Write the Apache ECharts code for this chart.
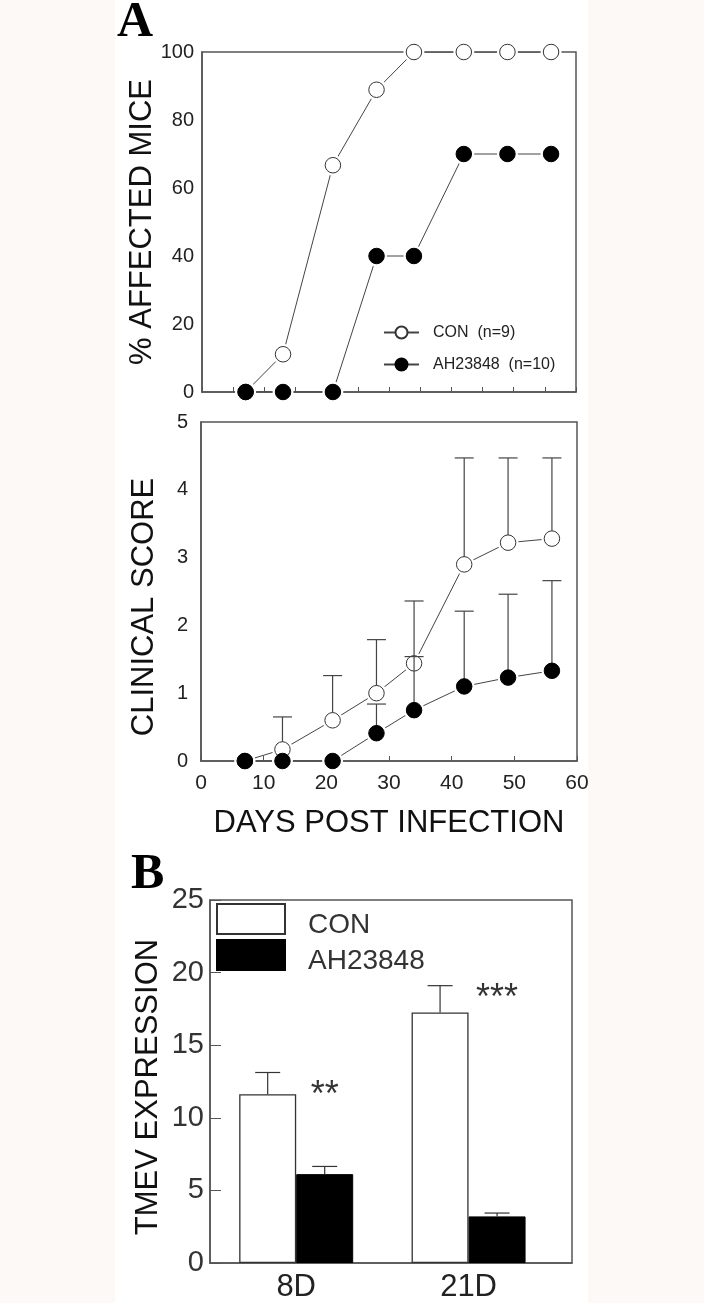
<!DOCTYPE html>
<html>
<head>
<meta charset="utf-8">
<script src="https://cdn.jsdelivr.net/npm/echarts@6/dist/echarts.min.js"></script>
<style>
  html, body { margin: 0; padding: 0; }
  body { background: linear-gradient(to right, #fdf9f7 0px, #fdf9f7 115px, #ffffff 115px, #ffffff 588px, #fdf9f7 588px, #fdf9f7 704px); }
  #chart { width: 704px; height: 1303px; }
</style>
</head>
<body>
<div id="chart"></div>
<script>
// ---- Data ----
const days = [7, 13, 21, 28, 34, 42, 49, 56];
const pctCON = [0, 11.1, 66.7, 88.9, 100, 100, 100, 100];
const pctAH = [0, 0, 0, 40, 40, 70, 70, 70];
const scoreCON = [0, 0.17, 0.6, 1.0, 1.44, 2.9, 3.22, 3.28];
const scoreCONUpper = [null, 0.65, 1.26, 1.79, 2.36, 4.47, 4.47, 4.47];
const scoreAH = [0, 0, 0, 0.41, 0.75, 1.1, 1.23, 1.33];
const scoreAHUpper = [null, null, null, 0.84, 1.54, 2.21, 2.46, 2.66];
const barCats = ['8D', '21D'];
const tmevCON = [11.63, 17.25];
const tmevCONUpper = [13.12, 19.1];
const tmevAH = [6.12, 3.21];
const tmevAHUpper = [6.65, 3.44];
const sigLabels = ['**', '***'];
const sigY = [11.5, 18.2];
const nameCON_A = 'CON  (n=9)';
const nameAH_A = 'AH23848  (n=10)';

// ---- Styles ----
const FONT = 'Liberation Sans, Arial, sans-serif';
const AXIS_C = '#555';
const LINE_C = '#444';
const TXT = '#222';
const MS = 15.5;     // marker size
const HALO = 21;
const BAR_W = 57;

const pairs = (xs, ys) => xs.map((x, i) => [x, ys[i]]);
const errData = (xs, ys, ups) => xs.map((x, i) => [x, ys[i], ups[i]]).filter(d => d[2] != null);

function errRenderer(cap, dx, color) {
  return function (params, api) {
    const x = api.value(0), y = api.value(1), up = api.value(2);
    const p0 = api.coord([x, y]);
    const p1 = api.coord([x, up]);
    const cx = p0[0] + dx;
    const st = { stroke: color, lineWidth: 1.2 };
    return {
      type: 'group',
      children: [
        { type: 'line', shape: { x1: cx, y1: p0[1], x2: cx, y2: p1[1] }, style: st },
        { type: 'line', shape: { x1: cx - cap / 2, y1: p1[1], x2: cx + cap / 2, y2: p1[1] }, style: st }
      ]
    };
  };
}

const conItem = { color: '#fff', borderColor: '#333', borderWidth: 1, opacity: 1 };
const ahItem = { color: '#000', borderColor: '#000', borderWidth: 1, opacity: 1 };

const chart = echarts.init(document.getElementById('chart'), null, { renderer: 'canvas' });

const gridBase = { show: true, borderColor: AXIS_C, borderWidth: 1.5, backgroundColor: 'transparent', containLabel: false, outerBoundsMode: 'none' };

const option = {
  animation: false,
  backgroundColor: 'transparent',
  textStyle: { fontFamily: FONT },
  grid: [
    Object.assign({ left: 202, top: 52, width: 374, height: 340 }, gridBase),
    Object.assign({ left: 201, top: 422, width: 376, height: 339 }, gridBase),
    Object.assign({ left: 210, top: 900, width: 362, height: 363 }, gridBase)
  ],
  xAxis: [
    {
      gridIndex: 0, type: 'value', min: 0, max: 60, interval: 5,
      axisLine: { lineStyle: { color: AXIS_C, width: 1.5 } },
      axisTick: { show: true, inside: true, length: 5, lineStyle: { color: AXIS_C } },
      axisLabel: { show: false }, splitLine: { show: false }
    },
    {
      gridIndex: 1, type: 'value', min: 0, max: 60, interval: 10,
      axisLine: { lineStyle: { color: AXIS_C, width: 1.5 } },
      axisTick: { show: true, inside: true, length: 5, lineStyle: { color: AXIS_C } },
      axisLabel: { fontSize: 21, color: TXT, margin: 12, fontFamily: FONT },
      splitLine: { show: false },
      name: 'DAYS POST INFECTION', nameLocation: 'middle', nameGap: 47, nameMoveOverlap: false,
      nameTextStyle: { fontSize: 31, color: '#111', fontFamily: FONT }
    },
    {
      gridIndex: 2, type: 'value', min: 0.5, max: 2.6,
      axisLine: { lineStyle: { color: AXIS_C, width: 1.5 } },
      axisTick: { show: false },
      axisLabel: {
        customValues: [1, 2], fontSize: 31, color: TXT, margin: 9, fontFamily: FONT,
        formatter: v => barCats[Math.round(v) - 1] || ''
      },
      splitLine: { show: false }
    }
  ],
  yAxis: [
    {
      gridIndex: 0, type: 'value', min: 0, max: 100, interval: 20,
      axisLine: { lineStyle: { color: AXIS_C, width: 1.5 } },
      axisTick: { show: false },
      axisLabel: { fontSize: 20, color: TXT, margin: 8, fontFamily: FONT },
      splitLine: { show: false },
      name: '% AFFECTED MICE', nameLocation: 'middle', nameGap: 44, nameMoveOverlap: false,
      nameTextStyle: { fontSize: 31, color: '#111', fontFamily: FONT }
    },
    {
      gridIndex: 1, type: 'value', min: 0, max: 5, interval: 1,
      axisLine: { lineStyle: { color: AXIS_C, width: 1.5 } },
      axisTick: { show: false },
      axisLabel: { fontSize: 20, color: TXT, margin: 13, fontFamily: FONT },
      splitLine: { show: false },
      name: 'CLINICAL SCORE', nameLocation: 'middle', nameGap: 41, nameMoveOverlap: false,
      nameTextStyle: { fontSize: 31, color: '#111', fontFamily: FONT, padding: [0, 31, 0, 0] }
    },
    {
      gridIndex: 2, type: 'value', min: 0, max: 25, interval: 5,
      axisLine: { lineStyle: { color: AXIS_C, width: 1.5 } },
      axisTick: { show: true, inside: true, length: 11, lineStyle: { color: AXIS_C } },
      axisLabel: { fontSize: 29, color: '#333', margin: 6, fontFamily: FONT },
      splitLine: { show: false },
      name: 'TMEV EXPRESSION', nameLocation: 'middle', nameGap: 46, nameMoveOverlap: false,
      nameTextStyle: { fontSize: 31, color: '#111', fontFamily: FONT, padding: [0, 11, 0, 0] }
    }
  ],
  legend: [
    {
      data: [nameCON_A, nameAH_A], orient: 'vertical', left: 378, top: 319.5,
      itemWidth: 35, itemHeight: 15, itemGap: 16, selectedMode: false,
      textStyle: { fontSize: 16, color: TXT, fontFamily: FONT, padding: [0, 0, 0, 9] }
    },
    {
      data: ['CON', 'AH23848'], orient: 'vertical', left: 211, top: 898,
      itemWidth: 68, itemHeight: 30, itemGap: 0, icon: 'rect', selectedMode: false,
      formatter: name => '{t|' + name + '}',
      textStyle: {
        fontSize: 28, color: '#333', fontFamily: FONT, padding: [0, 0, 0, 18],
        rich: { t: { fontSize: 28, color: '#333', fontFamily: FONT, padding: [12, 0, 0, 0] } }
      }
    }
  ],
  graphic: [
    { type: 'text', left: 117, top: -2, style: { text: 'A', font: 'bold 50px "Liberation Serif", "Times New Roman", serif', fill: '#000' } },
    { type: 'text', left: 131, top: 850, style: { text: 'B', font: 'bold 50px "Liberation Serif", "Times New Roman", serif', fill: '#000' } }
  ],
  series: [
    // ---- Panel A top: % affected ----
    { name: nameCON_A, type: 'line', xAxisIndex: 0, yAxisIndex: 0, data: pairs(days, pctCON), showSymbol: false, symbol: 'circle',
      lineStyle: { color: LINE_C, width: 1 }, itemStyle: conItem, z: 2 },
    { name: nameAH_A, type: 'line', xAxisIndex: 0, yAxisIndex: 0, data: pairs(days, pctAH), showSymbol: false, symbol: 'circle',
      lineStyle: { color: LINE_C, width: 1 }, itemStyle: ahItem, z: 2 },
    { type: 'scatter', xAxisIndex: 0, yAxisIndex: 0, data: pairs(days, pctCON).concat(pairs(days, pctAH)), symbolSize: HALO,
      itemStyle: { color: '#fff', opacity: 1 }, z: 3, silent: true },
    { type: 'scatter', xAxisIndex: 0, yAxisIndex: 0, data: pairs(days, pctCON), symbolSize: MS, itemStyle: conItem, z: 5 },
    { type: 'scatter', xAxisIndex: 0, yAxisIndex: 0, data: pairs(days, pctAH), symbolSize: MS, itemStyle: ahItem, z: 7 },

    // ---- Panel A bottom: clinical score ----
    { name: nameCON_A, type: 'line', xAxisIndex: 1, yAxisIndex: 1, data: pairs(days, scoreCON), showSymbol: false, symbol: 'circle',
      lineStyle: { color: LINE_C, width: 1 }, itemStyle: conItem, z: 2 },
    { name: nameAH_A, type: 'line', xAxisIndex: 1, yAxisIndex: 1, data: pairs(days, scoreAH), showSymbol: false, symbol: 'circle',
      lineStyle: { color: LINE_C, width: 1 }, itemStyle: ahItem, z: 2 },
    { type: 'scatter', xAxisIndex: 1, yAxisIndex: 1, data: pairs(days, scoreCON).concat(pairs(days, scoreAH)), symbolSize: HALO,
      itemStyle: { color: '#fff', opacity: 1 }, z: 3, silent: true },
    { type: 'custom', xAxisIndex: 1, yAxisIndex: 1, data: errData(days, scoreCON, scoreCONUpper),
      renderItem: errRenderer(19, 0, LINE_C), z: 4, silent: true },
    { type: 'scatter', xAxisIndex: 1, yAxisIndex: 1, data: pairs(days, scoreCON), symbolSize: MS, itemStyle: conItem, z: 5 },
    { type: 'custom', xAxisIndex: 1, yAxisIndex: 1, data: errData(days, scoreAH, scoreAHUpper),
      renderItem: errRenderer(19, 0, LINE_C), z: 6, silent: true },
    { type: 'scatter', xAxisIndex: 1, yAxisIndex: 1, data: pairs(days, scoreAH), symbolSize: MS, itemStyle: ahItem, z: 7 },

    // ---- Panel B: bars ----
    { name: 'CON', type: 'bar', xAxisIndex: 2, yAxisIndex: 2, data: barCats.map((c, i) => [i + 1, tmevCON[i]]),
      barWidth: BAR_W, barGap: '0%', itemStyle: { color: '#fff', borderColor: '#333', borderWidth: 1.3 }, z: 2 },
    { name: 'AH23848', type: 'bar', xAxisIndex: 2, yAxisIndex: 2, data: barCats.map((c, i) => [i + 1, tmevAH[i]]),
      barWidth: BAR_W, barGap: '0%', itemStyle: { color: '#000', borderColor: '#000', borderWidth: 1 }, z: 2 },
    { type: 'custom', xAxisIndex: 2, yAxisIndex: 2, data: barCats.map((c, i) => [i + 1, tmevCON[i], tmevCONUpper[i]]),
      renderItem: errRenderer(25, -BAR_W / 2, '#333'), z: 3, silent: true },
    { type: 'custom', xAxisIndex: 2, yAxisIndex: 2, data: barCats.map((c, i) => [i + 1, tmevAH[i], tmevAHUpper[i]]),
      renderItem: errRenderer(25, BAR_W / 2, '#333'), z: 3, silent: true },
    { type: 'scatter', xAxisIndex: 2, yAxisIndex: 2, data: barCats.map((c, i) => [i + 1, sigY[i]]), symbolSize: 0, silent: true,
      label: { show: true, position: 'inside', offset: [BAR_W / 2, 0], formatter: p => sigLabels[p.dataIndex],
        fontSize: 36, color: '#000', fontFamily: FONT }, z: 4 }
  ]
};
chart.setOption(option);
</script>
</body>
</html>
